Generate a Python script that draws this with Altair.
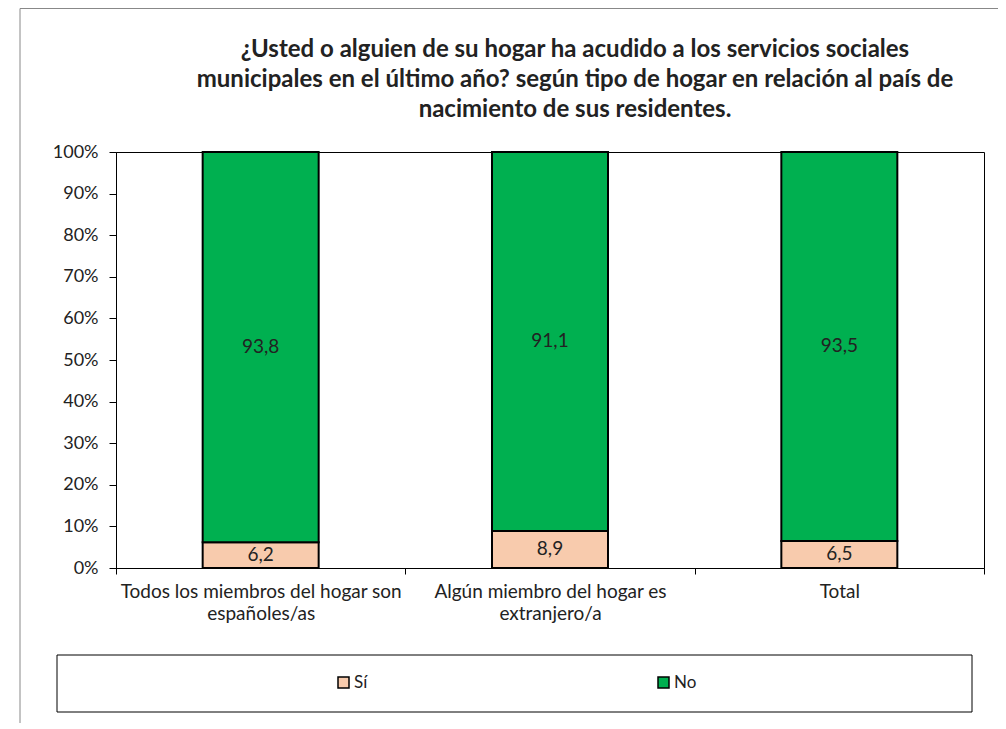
import altair as alt
import pandas as pd

categories = [
    "Todos los miembros del hogar son españoles/as",
    "Algún miembro del hogar es extranjero/a",
    "Total",
]
label_lines = [
    ["Todos los miembros del hogar son", "españoles/as"],
    ["Algún miembro del hogar es", "extranjero/a"],
    ["Total"],
]
series = ["Sí", "No"]
si_values = [6.2, 8.9, 6.5]
no_values = [93.8, 91.1, 93.5]
colors = ["#F8CBAD", "#00B050"]
y_ticks = [0, 10, 20, 30, 40, 50, 60, 70, 80, 90, 100]
title_lines = [
    "¿Usted o alguien de su hogar ha acudido a los servicios sociales",
    "municipales en el último año? según tipo de hogar en relación al país de",
    "nacimiento de sus residentes.",
]

rows = []
for i, c in enumerate(categories):
    rows.append({"cat": c, "serie": series[0], "ord": 0, "value": si_values[i]})
    rows.append({"cat": c, "serie": series[1], "ord": 1, "value": no_values[i]})
df = pd.DataFrame(rows)

def js_str(s):
    return "'" + s.replace("'", "\\'") + "'"

expr = "datum.label"
for c, lines in reversed(list(zip(categories, label_lines))):
    arr = "[" + ", ".join(js_str(l) for l in lines) + "]"
    expr = f"datum.value == {js_str(c)} ? {arr} : ({expr})"

FONT = "Lato"
FS = 18

base = alt.Chart(df).transform_stack(
    stack="value", groupby=["cat"], as_=["y0", "y1"],
    sort=[alt.SortField("ord", order="ascending")],
).transform_calculate(
    mid="(datum.y0 + datum.y1) / 2",
    lab="replace(format(datum.value, '.1f'), '.', ',')",
)

x_enc = alt.X(
    "cat:N", sort=categories,
    scale=alt.Scale(paddingInner=0, paddingOuter=0),
    axis=alt.Axis(
        title=None, labelAngle=0, tickBand="extent", labelExpr=expr,
        labelFont=FONT, labelFontSize=19, labelColor="#222", labelLimit=500,
        domainColor="#000", tickColor="#000", tickSize=6,
        labelPadding=8, labelLineHeight=22, labelBaseline="top",
    ),
)

bars = base.mark_bar(size=116, stroke="#000", strokeWidth=2).encode(
    x=x_enc,
    y=alt.Y(
        "y0:Q", scale=alt.Scale(domain=[0, 100], nice=False),
        axis=alt.Axis(
            title=None, values=y_ticks, labelExpr="datum.value + '%'",
            grid=False, labelFont=FONT, labelFontSize=FS, labelColor="#222",
            domainColor="#000", tickColor="#000", tickSize=7, labelPadding=11,
        ),
    ),
    y2="y1:Q",
    color=alt.Color(
        "serie:N",
        scale=alt.Scale(domain=series, range=colors),
        legend=alt.Legend(
            title=None, orient="none", legendX=219, legendY=522,
            direction="horizontal", symbolType="square", symbolSize=121,
            symbolStrokeColor="#000", symbolStrokeWidth=1.5,
            labelFont=FONT, labelFontSize=17, labelColor="#222",
            columnPadding=287, symbolOffset=0, labelOffset=2, padding=0,
        ),
    ),
)

texts = base.mark_text(font=FONT, fontSize=19, color="#222").encode(
    x=alt.X("cat:N", sort=categories),
    y=alt.Y("mid:Q"),
    text="lab:N",
)

one = pd.DataFrame({"k": [0]})
outer = alt.Chart(one).mark_rect(fillOpacity=0, stroke="#888", strokeWidth=1).encode(
    x=alt.value(-96), x2=alt.value(1000), y=alt.value(-143.5), y2=alt.value(700)
)
legend_box = alt.Chart(one).mark_rect(fillOpacity=0, stroke="#000", strokeWidth=1).encode(
    x=alt.value(-59), x2=alt.value(856), y=alt.value(503), y2=alt.value(560)
)

chart = alt.layer(outer, legend_box, bars, texts).properties(
    width=868, height=416,
    title=alt.TitleParams(
        text=title_lines, font=FONT, fontSize=24, fontWeight="bold",
        color="#222", anchor="middle", dx=25, offset=-114, lineHeight=30,
        frame="group",
    ),
    autosize=alt.AutoSizeParams(type="none"),
    padding={"left": 108, "top": 144, "right": 14, "bottom": 155},
).configure_view(stroke="#000", strokeWidth=1)

chart.save("out.html", embed_options={"renderer": "svg", "actions": False})
